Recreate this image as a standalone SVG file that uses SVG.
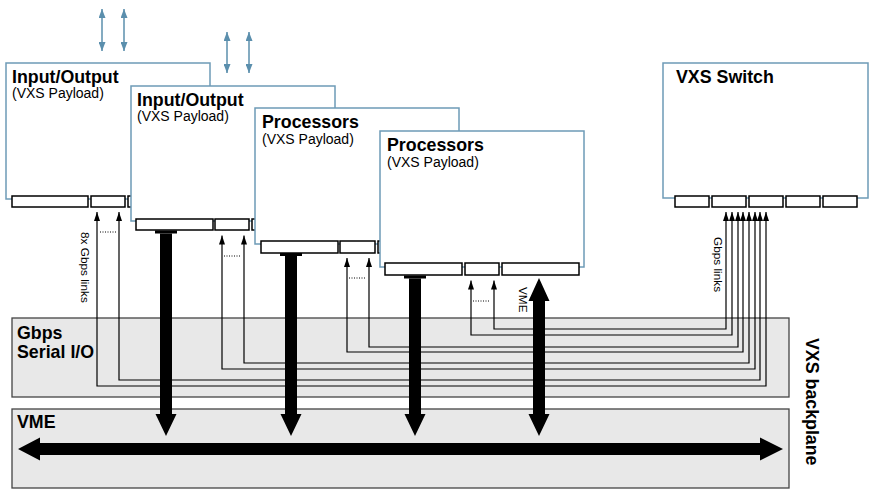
<svg xmlns="http://www.w3.org/2000/svg" width="869" height="489" viewBox="0 0 869 489">
<style>
.board{fill:#fff;stroke:#6d9bb7;stroke-width:1.5}
.port{fill:#fff;stroke:#000;stroke-width:1.5}
.plane{fill:#e8e8e8;stroke:#444;stroke-width:1.3}
.t{font-family:"Liberation Sans",Arial,sans-serif;font-weight:bold;font-size:17.8px;fill:#000}
.s{font-family:"Liberation Sans",Arial,sans-serif;font-size:14px;fill:#000}
.sm{font-family:"Liberation Sans",Arial,sans-serif;font-size:11.8px;fill:#000}
.lnr{fill:none;stroke:#000;stroke-width:1.2;marker-start:url(#ah);marker-end:url(#ah)}
.dot{stroke:#000;stroke-width:1;stroke-dasharray:1 1.5}
.blue{stroke:#5b8fad;stroke-width:1.5;marker-start:url(#bh);marker-end:url(#bh)}
.thick{fill:#000}
</style>
<defs>
<marker id="ah" viewBox="0 0 9 6" refX="9" refY="3" markerWidth="9" markerHeight="6" markerUnits="userSpaceOnUse" orient="auto-start-reverse"><path d="M0,0 L9,3 L0,6 z" fill="#000"/></marker>
<marker id="bh" viewBox="0 0 9 7" refX="9" refY="3.5" markerWidth="9" markerHeight="7" markerUnits="userSpaceOnUse" orient="auto-start-reverse"><path d="M0,0 L9,3.5 L0,7 z" fill="#5b8fad"/></marker>
</defs>

<g id="backplane-serial">
<rect class="plane" x="12" y="318" width="777" height="79"/>
<text class="t" x="17" y="338.5">Gbps</text>
<text class="t" x="17" y="357.5">Serial I/O</text>
</g>
<g id="backplane-vme">
<rect class="plane" x="12" y="409" width="777" height="79"/>
<text class="t" x="17" y="428">VME</text>
</g>
<g id="backplane-label">
<text class="t" transform="translate(805.5,338) rotate(90)">VXS backplane</text>
</g>

<g id="io1">
<rect class="board" x="6" y="63" width="204" height="136"/>
<text class="t" x="12" y="82.5">Input/Output</text>
<text class="s" x="12" y="98">(VXS Payload)</text>
<rect class="port" x="12" y="196" width="76" height="11"/>
<rect class="port" x="91" y="196" width="34" height="11"/>
<rect class="port" x="128" y="196" width="76" height="11"/>
</g>
<g id="io2">
<rect class="board" x="131" y="86" width="204" height="135"/>
<text class="t" x="137" y="105.5">Input/Output</text>
<text class="s" x="137" y="121">(VXS Payload)</text>
<rect class="port" x="136" y="219" width="77" height="11"/>
<rect class="port" x="215" y="219" width="34" height="11"/>
<rect class="port" x="252" y="219" width="76" height="11"/>
</g>
<g id="proc1">
<rect class="board" x="255" y="108" width="204" height="136"/>
<text class="t" x="262" y="128">Processors</text>
<text class="s" x="262" y="143.5">(VXS Payload)</text>
<rect class="port" x="261" y="241" width="77" height="12"/>
<rect class="port" x="340" y="241" width="35" height="12"/>
<rect class="port" x="378" y="241" width="76" height="12"/>
</g>
<g id="proc2">
<rect class="board" x="380" y="131" width="204" height="136"/>
<text class="t" x="387" y="151">Processors</text>
<text class="s" x="387" y="166.5">(VXS Payload)</text>
<rect class="port" x="385" y="263" width="77" height="12"/>
<rect class="port" x="465" y="263" width="34" height="12"/>
<rect class="port" x="502" y="263" width="77" height="12"/>
</g>
<g id="switch">
<rect class="board" x="663" y="63" width="205" height="135"/>
<text class="t" x="676" y="83">VXS Switch</text>
<rect class="port" x="675" y="196" width="34" height="11"/>
<rect class="port" x="712" y="196" width="34" height="11"/>
<rect class="port" x="749" y="196" width="34" height="11"/>
<rect class="port" x="786" y="196" width="34" height="11"/>
<rect class="port" x="823" y="196" width="34" height="11"/>
</g>

<g id="connectors">
<line class="blue" x1="102" y1="9" x2="102" y2="51"/>
<line class="blue" x1="124" y1="9" x2="124" y2="51"/>
<line class="blue" x1="227" y1="32" x2="227" y2="73"/>
<line class="blue" x1="249" y1="32" x2="249" y2="73"/>

<path class="lnr" d="M97,212 V386 H766 V212"/>
<path class="lnr" d="M119,212 V380 H760 V212"/>
<path class="lnr" d="M222,235.5 V369 H755 V212"/>
<path class="lnr" d="M244,235.5 V363 H749 V212"/>
<path class="lnr" d="M347,258 V352 H743 V212"/>
<path class="lnr" d="M369,258 V347 H738 V212"/>
<path class="lnr" d="M471,280.5 V335 H732 V212"/>
<path class="lnr" d="M494,280.5 V329 H726 V212"/>

<line class="dot" x1="100" y1="232" x2="116" y2="232"/>
<line class="dot" x1="224" y1="256" x2="240" y2="256"/>
<line class="dot" x1="349" y1="278" x2="365" y2="278"/>
<line class="dot" x1="473" y1="301" x2="490" y2="301"/>

<text class="sm" transform="translate(81,232) rotate(90)">8x Gbps links</text>
<text class="sm" transform="translate(714,237) rotate(90)">Gbps links</text>
<text class="sm" transform="translate(519,287) rotate(90)">VME</text>

<rect class="thick" x="155" y="230.5" width="22" height="3"/>
<polygon class="thick" points="160,233.5 172,233.5 172,414 176.5,414 166,436 155.5,414 160,414"/>
<rect class="thick" x="280" y="253" width="22" height="3"/>
<polygon class="thick" points="285,256 297,256 297,414 301.5,414 291,436 280.5,414 285,414"/>
<rect class="thick" x="404" y="275.5" width="22" height="3"/>
<polygon class="thick" points="409,278.5 421,278.5 421,414 425.5,414 415,436 404.5,414 409,414"/>
<polygon class="thick" points="539,278 549.5,301 545,301 545,414 549.5,414 539,436 528.5,414 533,414 533,301 528.5,301"/>
<polygon class="thick" points="18,449 40,437.5 40,443 760,443 760,437.5 783,449 760,460.5 760,455 40,455 40,460.5"/>
</g>
</svg>
